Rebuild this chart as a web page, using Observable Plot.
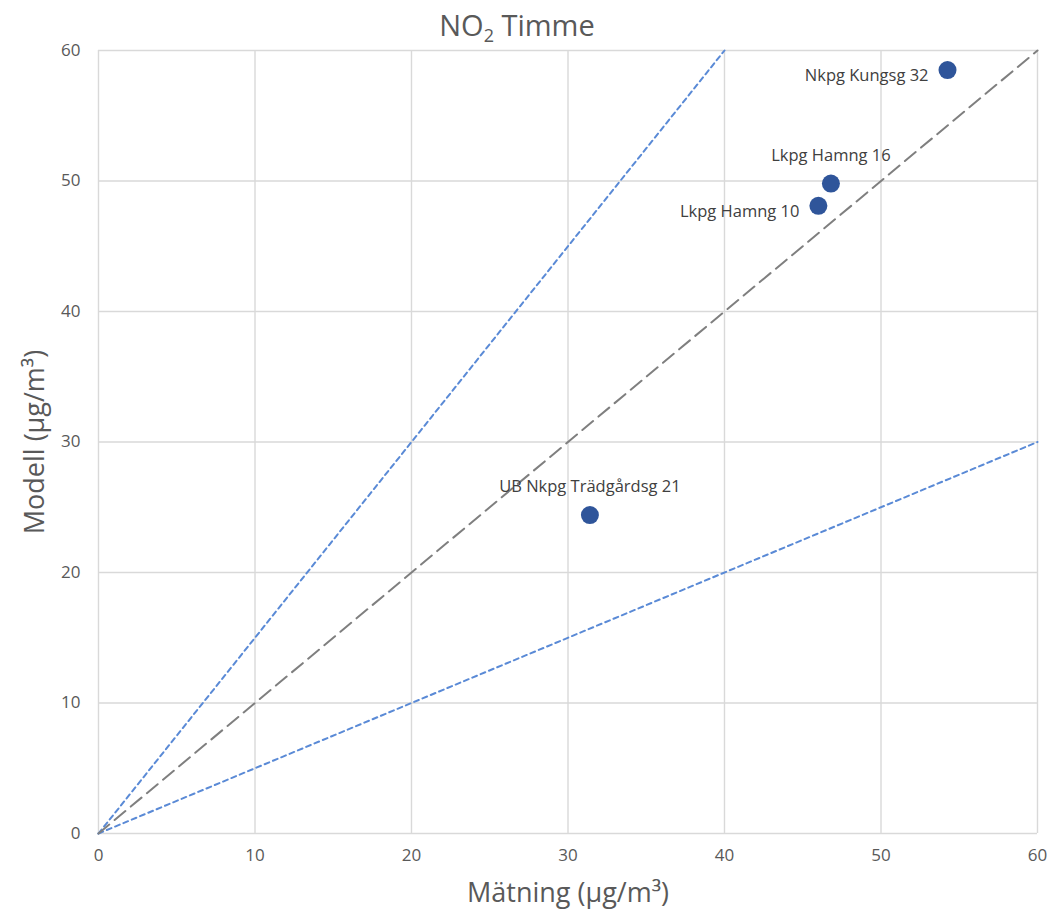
<!DOCTYPE html>
<html>
<head>
<meta charset="utf-8">
<script src="https://cdn.jsdelivr.net/npm/d3@7"></script>
<script src="https://cdn.jsdelivr.net/npm/@observablehq/plot@0.6"></script>
<style>
  body { margin: 0; background: #fff; font-family: "Open Sans", sans-serif; }
  #title { height: 30px; box-sizing: border-box; padding-top: 10px; padding-right: 18px; text-align: center; font-size: 29px; line-height: 1; color: #595959; width: 1052px; overflow: visible; white-space: nowrap; }
  #title sub { font-size: 18px; vertical-align: -6px; line-height: 0; }
  #chart svg { overflow: visible; }
</style>
</head>
<body>
<div id="title">NO<sub>2</sub> Timme</div>
<div id="chart"></div>
<script>
// Data
const stations = ["Nkpg Kungsg 32", "Lkpg Hamng 16", "Lkpg Hamng 10", "UB Nkpg Trädgårdsg 21"];
const matning = [54.25, 46.8, 46.0, 31.4];
const modell = [58.5, 49.8, 48.1, 24.4];
const ticks = [0, 10, 20, 30, 40, 50, 60];
const line1to1 = [{x: 0, y: 0}, {x: 60, y: 60}];
const lineSteep = [{x: 0, y: 0}, {x: 40, y: 60}];
const lineHalf = [{x: 0, y: 0}, {x: 60, y: 30}];
const xTitle = "Mätning (µg/m³)";
const yTitle = "Modell (µg/m³)";

const points = stations.map((name, i) => ({name, x: matning[i], y: modell[i]}));

const textColor = "#595959";
const labelColor = "#404040";
const dotColor = "#2f559a";
const blue = "#5a8ad6";

const leftLabels = ["Nkpg Kungsg 32", "Lkpg Hamng 10"];
const aboveLabels = ["Lkpg Hamng 16", "UB Nkpg Trädgårdsg 21"];

const chart = Plot.plot({
  width: 1052,
  height: 887,
  marginTop: 20,
  marginBottom: 84,
  marginLeft: 98,
  marginRight: 15,
  style: {fontFamily: "Open Sans, sans-serif", background: "#fff", overflow: "visible"},
  x: {domain: [0, 60], ticks: ticks, label: null, tickSize: 0, tickPadding: 15},
  y: {domain: [0, 60], ticks: ticks, label: null, tickSize: 0, tickPadding: 18},
  marks: [
    Plot.gridX(ticks, {stroke: "#d9d9d9", strokeOpacity: 1, strokeWidth: 1.4}),
    Plot.gridY(ticks, {stroke: "#d9d9d9", strokeOpacity: 1, strokeWidth: 1.4}),
    Plot.axisX(ticks, {tickSize: 0, tickPadding: 15, fontSize: 17, fill: textColor, label: null}),
    Plot.axisY(ticks, {tickSize: 0, tickPadding: 18, fontSize: 17, fill: textColor, label: null}),
    Plot.line(lineSteep, {x: "x", y: "y", stroke: blue, strokeWidth: 2, strokeDasharray: "5,4"}),
    Plot.line(lineHalf, {x: "x", y: "y", stroke: blue, strokeWidth: 2, strokeDasharray: "5,4"}),
    Plot.line(line1to1, {x: "x", y: "y", stroke: "#7f7f7f", strokeWidth: 2, strokeDasharray: "14,7"}),
    Plot.dot(points, {x: "x", y: "y", r: 9, fill: dotColor, stroke: "none"}),
    Plot.text(points.filter(d => leftLabels.includes(d.name)), {
      x: "x", y: "y", text: "name", textAnchor: "end", dx: -19, dy: 6,
      fontSize: 16.5, fill: labelColor
    }),
    Plot.text(points.filter(d => aboveLabels.includes(d.name)), {
      x: "x", y: "y", text: "name", textAnchor: "middle", dy: -28,
      fontSize: 16.5, fill: labelColor
    }),
    Plot.text([xTitle], {frameAnchor: "bottom", textAnchor: "middle", lineAnchor: "middle", dy: 60, text: d => d, fontSize: 27, fill: textColor}),
    Plot.text([yTitle], {frameAnchor: "left", textAnchor: "middle", lineAnchor: "middle", dx: -63, rotate: -90, text: d => d, fontSize: 27, fill: textColor})
  ]
});
document.getElementById("chart").appendChild(chart);
</script>
</body>
</html>
